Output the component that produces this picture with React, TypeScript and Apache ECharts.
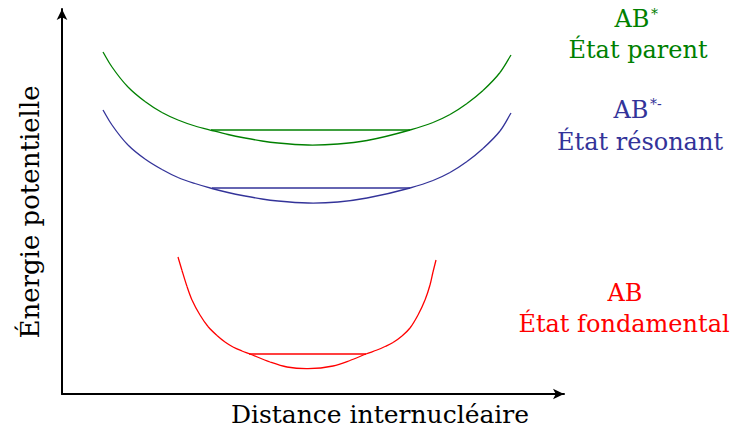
import React, { useEffect, useRef } from "react";
import * as echarts from "echarts";

// distance (px from y axis) and energy (px above x axis)
const distX = [41, 50, 66, 83, 100, 116, 133, 150, 166, 183, 200, 216, 246, 276, 305, 348, 371, 388, 405, 421, 438, 449];
const parentE = [342, 327, 307, 292.5, 281.5, 274, 268, 263.5, 259.5, 256, 253, 251, 249, 250, 253.5, 264, 271.5, 279.5, 290.5, 303.5, 321.5, 339];
const resonantE = [284, 269, 249, 235, 224.5, 216.5, 210.5, 205.5, 201.5, 198, 195, 193, 191, 192, 196, 206, 213.5, 221.5, 232.5, 245.5, 263, 281];
const groundX = [116, 120, 125, 130, 138, 146, 155, 163, 171, 180, 188, 208, 225, 246, 271, 288, 304, 315, 323, 331, 340, 348, 356, 363, 368, 371, 374];
const groundE = [137, 123.5, 107.5, 94, 79, 67.5, 58.5, 52, 47, 43, 40, 32, 27, 25.3, 28, 33.5, 40, 44, 47.5, 51.5, 58, 66, 79, 94, 109, 122, 134];

const parentLevelX = [149, 348];
const parentLevelE = 264;
const resonantLevelX = [150, 348];
const resonantLevelE = 206;
const groundLevelX = [187, 304];
const groundLevelE = 40;

const xAxisTitle = "Distance internucléaire";
const yAxisTitle = "Énergie potentielle";
const stateNames = ["État parent", "État résonant", "État fondamental"];

const GREEN = "#008000";
const BLUE = "#333399";
const RED = "#ff0000";
const FONT = "DejaVu Serif";

function pairs(xs: number[], ys: number[]) {
  return xs.map((x, i) => [x, ys[i]]);
}

// centripetal Catmull-Rom through pixel points -> cubic bezier segments
function bezierSegments(p: number[][]) {
  const n = p.length;
  const get = (i: number) => {
    if (i < 0) return [2 * p[0][0] - p[1][0], 2 * p[0][1] - p[1][1]];
    if (i >= n) return [2 * p[n - 1][0] - p[n - 2][0], 2 * p[n - 1][1] - p[n - 2][1]];
    return p[i];
  };
  const dist = (a: number[], b: number[]) => Math.max(1e-6, Math.hypot(a[0] - b[0], a[1] - b[1]));
  const segs: any[] = [];
  const al = 0.5;
  for (let i = 0; i < n - 1; i++) {
    const P0 = get(i - 1), P1 = get(i), P2 = get(i + 1), P3 = get(i + 2);
    const d1 = dist(P0, P1), d2 = dist(P1, P2), d3 = dist(P2, P3);
    const d1a = Math.pow(d1, al), d2a = Math.pow(d2, al), d3a = Math.pow(d3, al);
    const d1b = d1a * d1a, d2b = d2a * d2a, d3b = d3a * d3a;
    const c1 = (k: number) => (d1b * P2[k] - d2b * P0[k] + (2 * d1b + 3 * d1a * d2a + d2b) * P1[k]) / (3 * d1a * (d1a + d2a));
    const c2 = (k: number) => (d3b * P1[k] - d2b * P3[k] + (2 * d3b + 3 * d3a * d2a + d2b) * P2[k]) / (3 * d3a * (d3a + d2a));
    segs.push({
      x1: P1[0], y1: P1[1],
      cpx1: c1(0), cpy1: c1(1),
      cpx2: c2(0), cpy2: c2(1),
      x2: P2[0], y2: P2[1],
    });
  }
  return segs;
}

function curveSeries(xs: number[], ys: number[], color: string) {
  return {
    type: "custom",
    coordinateSystem: "cartesian2d",
    silent: true,
    data: pairs(xs, ys),
    renderItem: (params: any, api: any) => {
      if (params.dataIndex !== 0) return null;
      const pts = xs.map((x, i) => api.coord([x, ys[i]]));
      return {
        type: "group",
        children: bezierSegments(pts).map((s) => ({
          type: "bezierCurve",
          shape: s,
          style: { stroke: color, lineWidth: 1.3, fill: null },
        })),
      };
    },
  };
}

export default function App() {
  const ref = useRef<HTMLDivElement>(null);
  useEffect(() => {
    if (!ref.current) return;
    const chart = echarts.init(ref.current, undefined, { renderer: "svg" });
    const txt = (text: string, x: number, y: number, color: string, fs: number, extra: any = {}) => ({
      type: "text",
      x,
      y,
      ...extra,
      style: {
        text,
        fill: color,
        font: `${fs}px "${FONT}"`,
        align: "center",
        verticalAlign: "middle",
      },
    });
    const sup = (text: string, x: number, y: number, color: string) => ({
      type: "text",
      x,
      y,
      style: { text, fill: color, font: `14px "${FONT}"`, align: "left", verticalAlign: "middle" },
    });
    chart.setOption({
      animation: false,
      grid: { left: 62, right: 169, top: 9, bottom: 47 },
      xAxis: {
        type: "value",
        min: 0,
        max: 502,
        axisLine: { lineStyle: { color: "#000", width: 2 }, symbol: ["none", "arrow"], symbolSize: [8, 11] },
        axisTick: { show: false },
        axisLabel: { show: false },
        splitLine: { show: false },
      },
      yAxis: {
        type: "value",
        min: 0,
        max: 385,
        axisLine: { show: true, lineStyle: { color: "#000", width: 2 }, symbol: ["none", "arrow"], symbolSize: [8, 11] },
        axisTick: { show: false },
        axisLabel: { show: false },
        splitLine: { show: false },
      },
      series: [
        curveSeries(distX, parentE, GREEN),
        curveSeries(distX, resonantE, BLUE),
        curveSeries(groundX, groundE, RED),
        { type: "line", data: parentLevelX.map((x) => [x, parentLevelE]), showSymbol: false, lineStyle: { color: GREEN, width: 1.5 } },
        { type: "line", data: resonantLevelX.map((x) => [x, resonantLevelE]), showSymbol: false, lineStyle: { color: BLUE, width: 1.5 } },
        { type: "line", data: groundLevelX.map((x) => [x, groundLevelE]), showSymbol: false, lineStyle: { color: RED, width: 1.5 } },
      ],
      graphic: [
        txt("AB", 632, 19, GREEN, 24),
        sup("*", 651, 14, GREEN),
        txt(stateNames[0], 638, 50, GREEN, 24),
        txt("AB", 631, 110, BLUE, 24),
        sup("*-", 650, 104, BLUE),
        txt(stateNames[1], 640, 142, BLUE, 24),
        txt("AB", 625, 293, RED, 24),
        txt(stateNames[2], 624, 324, RED, 24),
        txt(xAxisTitle, 380, 414, "#000", 25),
        txt(yAxisTitle, 30, 212, "#000", 26, { rotation: Math.PI / 2 }),
      ],
    });
    return () => chart.dispose();
  }, []);
  return <div ref={ref} style={{ position: "absolute", left: 0, top: 0, width: 733, height: 441 }} />;
}
